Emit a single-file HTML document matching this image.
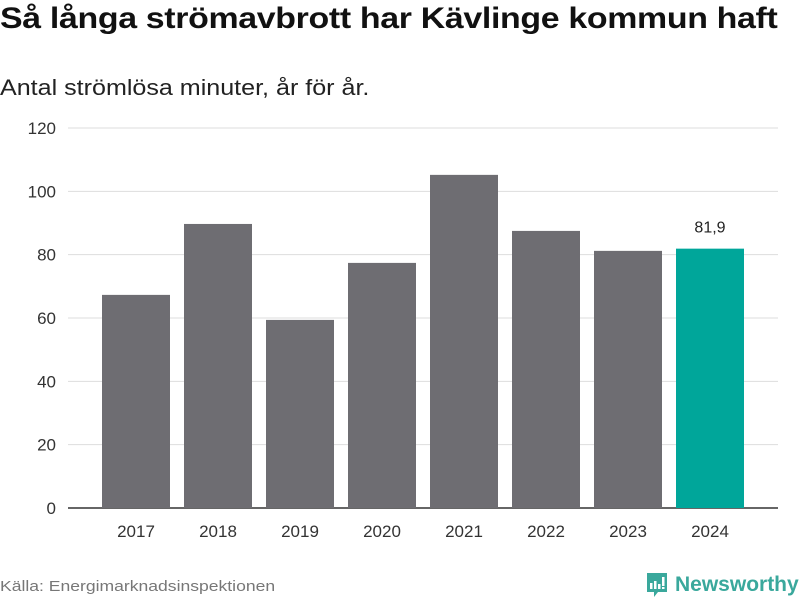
<!DOCTYPE html>
<html><head><meta charset="utf-8"><style>
body{margin:0;width:800px;height:600px;background:#fff;font-family:"Liberation Sans",sans-serif;overflow:hidden;position:relative}
.t{position:absolute;left:0;top:2px;font-size:30px;font-weight:bold;color:#111;letter-spacing:-0.3px;transform-origin:0 0;transform:scaleX(1.13);white-space:nowrap}
.s{position:absolute;left:0;top:75px;font-size:22px;color:#222;transform-origin:0 0;transform:scaleX(1.14);white-space:nowrap}
.src{position:absolute;left:0;top:578px;font-size:15px;color:#777;transform-origin:0 0;transform:scaleX(1.17);white-space:nowrap}
</style></head><body>
<div class="t">Så långa strömavbrott har Kävlinge kommun haft</div>
<div class="s">Antal strömlösa minuter, år för år.</div>
<svg id="c" width="800" height="600" style="position:absolute;left:0;top:0"></svg>
<div class="src">Källa: Energimarknadsinspektionen</div>
<div style="position:absolute;left:645px;top:571px;display:flex;align-items:center">
<svg width="24" height="28" viewBox="0 0 24 28"><path d="M2 2h20v19H13l-4 5v-5H2z" fill="#3aa89c"/><rect x="5" y="12" width="2.5" height="6" fill="#fff"/><rect x="9" y="10" width="2.5" height="8" fill="#fff"/><rect x="13" y="13" width="2.5" height="5" fill="#fff"/><rect x="17" y="6" width="2.5" height="9" fill="#fff"/><rect x="17" y="16" width="2.5" height="2" fill="#fff"/></svg>
<span style="font-size:21px;color:#3aa89c;margin-left:6px;font-weight:bold">Newsworthy</span></div>
<script>
const categories=["2017","2018","2019","2020","2021","2022","2023","2024"];
const values=[67.3,89.7,59.4,77.4,105.2,87.5,81.2,81.9];
const yTicks=[0,20,40,60,80,100,120];
const labelText="81,9";
const svg=document.getElementById('c');const NS="http://www.w3.org/2000/svg";
const y=v=>508-v*380/120;const x=i=>136+i*82;
function mk(t,a){const e=document.createElementNS(NS,t);for(const k in a)e.setAttribute(k,a[k]);svg.appendChild(e);return e;}
yTicks.forEach(v=>{
 const l=mk('line',{x1:68,x2:778,y1:y(v),y2:y(v),stroke:v===0?'#333':'#ddd','stroke-width':v===0?1.5:1});
 
 
 const t=mk('text',{x:56,y:y(v)+6,'text-anchor':'end','font-size':17,fill:'#333'});t.textContent=v;
 
 
});
values.forEach((v,i)=>{
 const last=i===values.length-1;
 const r=mk('rect',{x:x(i)-34,y:y(v),width:68,height:508-y(v),fill:last?'#00a69a':'#6e6d72'});
 
 
 const t=mk('text',{x:x(i),y:537,'text-anchor':'middle','font-size':17,fill:'#333'});t.textContent=categories[i];
 
 
 if(last){const l=mk('text',{x:x(i),y:y(v)-16,'text-anchor':'middle','font-size':16,fill:'#222'});l.textContent=labelText;
 
 }
});
</script>
</body></html>
